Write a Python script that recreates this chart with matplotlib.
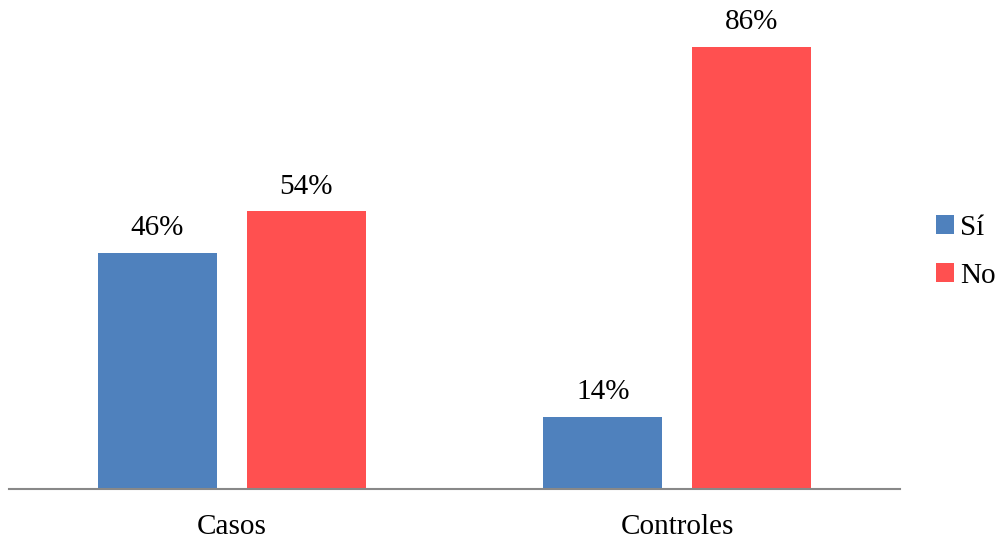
import matplotlib
matplotlib.use("Agg")
import matplotlib.pyplot as plt
import numpy as np

# grouped percentages: Sí / No for each group
groups = ["Casos", "Controles"]
si_pct = [46, 14]
no_pct = [54, 86]

BLUE = "#4F81BD"
RED = "#FF5050"

plt.rcParams["font.family"] = ["Liberation Serif", "DejaVu Serif"]

fig = plt.figure(figsize=(10.01, 5.38), dpi=100)
ax = fig.add_axes([9 / 1001, 49 / 538, 891 / 1001, 479 / 538])

x = np.arange(len(groups))
width = 0.267
offset = 0.167

b1 = ax.bar(x - offset, si_pct, width, color=BLUE, label="Sí")
b2 = ax.bar(x + offset, no_pct, width, color=RED, label="No")

for bars, vals in ((b1, si_pct), (b2, no_pct)):
    for bar, v in zip(bars, vals):
        ax.text(bar.get_x() + bar.get_width() / 2, v + 2.3, f"{v}%",
                ha="center", va="bottom", fontsize=21)

ax.set_xlim(-0.5, 1.5)
ax.set_ylim(0, 93.2)
ax.set_yticks([])
ax.set_xticks(x)
ax.set_xticklabels(groups, fontsize=21)
ax.tick_params(axis="x", length=0, pad=18)
for side in ("top", "right", "left"):
    ax.spines[side].set_visible(False)
ax.spines["bottom"].set_color("#888888")
ax.spines["bottom"].set_linewidth(1.5)

fig.legend(handles=[b1, b2], loc="center left", bbox_to_anchor=(936 / 1001, 1 - 252 / 538),
           frameon=False, fontsize=21, handlelength=0.62, handleheight=0.62,
           handletextpad=0.2, labelspacing=0.75, borderaxespad=0, borderpad=0)

fig.savefig("out.png", dpi=100)
